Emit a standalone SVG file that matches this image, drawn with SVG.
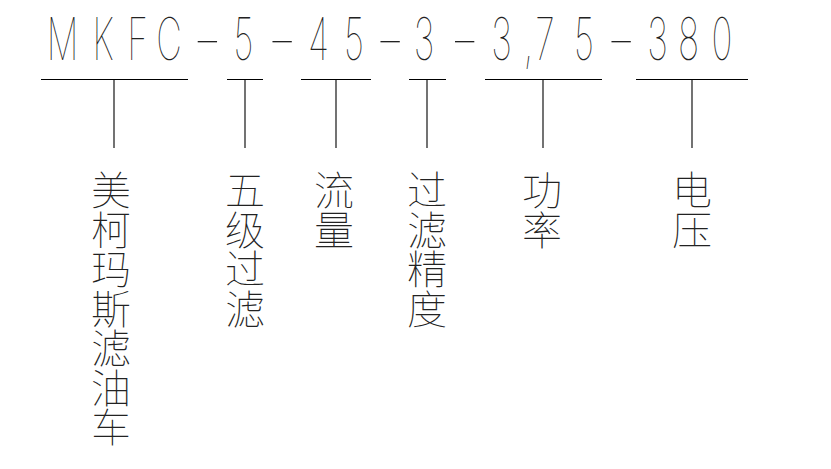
<svg xmlns="http://www.w3.org/2000/svg" width="831" height="469" viewBox="0 0 831 469">
<style>
.code{font-family:"Inter","Liberation Sans",sans-serif;font-size:59px;font-weight:100;fill:#222}
.lbl{font-family:"Noto Sans CJK SC","Noto Sans CJK JP",sans-serif;font-size:40px;font-weight:100;fill:#222}
.ln{stroke:#000;stroke-width:1.1;fill:none}
</style>
<rect width="831" height="469" fill="#fff"/>
<g id="code">
<text class="code" transform="scale(0.6,1)" y="60" text-anchor="middle"><tspan x="104.2 171.7 229.2 281.7">MKFC</tspan><tspan x="345.8" textLength="52" lengthAdjust="spacingAndGlyphs">-</tspan><tspan x="405.8">5</tspan><tspan x="470" textLength="52" lengthAdjust="spacingAndGlyphs">-</tspan><tspan x="530.8 590">45</tspan><tspan x="650" textLength="52" lengthAdjust="spacingAndGlyphs">-</tspan><tspan x="706.7">3</tspan><tspan x="774.2" textLength="52" lengthAdjust="spacingAndGlyphs">-</tspan><tspan x="835.8 880.8 908.3 973.3">3,75</tspan><tspan x="1035" textLength="52" lengthAdjust="spacingAndGlyphs">-</tspan><tspan x="1095.8 1147.5 1203.3">380</tspan></text>
</g>
<g id="connectors">
<path class="ln" d="M41 79.5H188M114 79.5V148"/>
<path class="ln" d="M227 79.5H263M245 79.5V148"/>
<path class="ln" d="M301 79.5H371M336 79.5V148"/>
<path class="ln" d="M409 79.5H446M427 79.5V148"/>
<path class="ln" d="M485 79.5H602M543 79.5V148"/>
<path class="ln" d="M636 79.5H748M692 79.5V148"/>
</g>
<g id="n1"><text class="lbl" text-anchor="middle" x="111 111 111 111 111 111 111" y="205 244.5 284 323.5 363 402.5 442">美柯玛斯滤油车</text></g>
<g id="n2"><text class="lbl" text-anchor="middle" x="245 245 245 245" y="205 244.5 284 323.5">五级过滤</text></g>
<g id="n3"><text class="lbl" text-anchor="middle" x="334 334" y="205 244.5">流量</text></g>
<g id="n4"><text class="lbl" text-anchor="middle" x="427 427 427 427" y="205 244.5 284 323.5">过滤精度</text></g>
<g id="n5"><text class="lbl" text-anchor="middle" x="542 542" y="205 244.5">功率</text></g>
<g id="n6"><text class="lbl" text-anchor="middle" x="692 692" y="205 244.5">电压</text></g>
</svg>
